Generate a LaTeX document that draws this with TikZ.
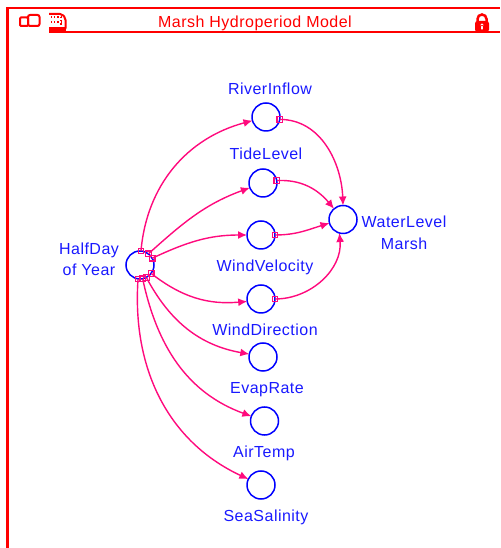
\documentclass[tikz,border=0pt]{standalone}
\usepackage{fontspec}
\setmainfont[LetterSpace=3]{Liberation Sans}
\usetikzlibrary{arrows.meta}
\definecolor{linkpink}{RGB}{255,10,125}
\definecolor{vartext}{RGB}{25,25,255}
\tikzset{
    var/.style={circle, draw=blue, line width=1.5pt, minimum size=28pt, inner sep=0pt, outer sep=0pt},
    varlabel/.style={text=vartext, font=\fontsize{16}{18}\selectfont, inner sep=0pt, text height=11pt, text depth=0pt},
    link/.style={draw=linkpink, line width=1.4pt, -{Latex[length=9pt,width=8pt]}},
    hook/.style={rectangle, draw=linkpink, line width=1.2pt, minimum size=5.5pt, inner sep=0pt, outer sep=0pt}
}

\begin{document}
\begin{tikzpicture}[x=1pt, y=1pt]
            \useasboundingbox (0, 0) rectangle (500, 548);

            % frame and title
            \draw[red, line width=3pt] (7.5, 0) -- (7.5, 540);
            \draw[red, line width=2.2pt] (6, 540) -- (500, 540);
            \draw[red, line width=2.2pt] (49, 516) -- (462, 516);
            \draw[red, line width=1.2pt] (462, 516) -- (500, 516);
            \node[text=red, font=\fontsize{16}{18}\selectfont, inner sep=0pt, text height=11pt, text depth=0pt] (title) at (255, 526) {Marsh Hydroperiod Model};

            % window icons
            \draw[red, line width=2pt, rounded corners=1pt] (20, 522) rectangle (28, 530.5);
            \draw[red, line width=2pt, rounded corners=2pt] (28, 522) rectangle (39.5, 533);
            \draw[red, line width=2pt, rounded corners=2pt] (49, 534) -- (62, 534) -- (65.5, 530) -- (65.5, 518) -- (50, 518);
            \fill[red] (49, 516) rectangle (66, 521);
            \draw[red, line width=1.2pt, dotted] (51, 531) -- (61, 531) (51, 526) -- (61, 526) (61, 531) -- (61, 522);

            % lock icon
            \draw[red, line width=2.5pt] (477.5, 526) -- (477.5, 529) arc (180:0:4.5) -- (486.5, 526);
            \fill[red, rounded corners=2.5pt] (475, 516) rectangle (489, 527);
            \fill[white] (482, 523) circle (1.6) (481.1, 518.5) rectangle (482.9, 523);

            % variables
            \node[var] (half) at (140, 283) {};
            \node[var] (river) at (266, 431) {};
            \node[var] (tide) at (263, 365) {};
            \node[var] (velocity) at (261, 313) {};
            \node[var] (direction) at (261, 249) {};
            \node[var] (evap) at (263, 191) {};
            \node[var] (air) at (264.5, 127) {};
            \node[var] (sea) at (261, 63) {};
            \node[var] (water) at (343, 328.5) {};

            % labels
            \node[varlabel] (halflabela) at (89, 299) {HalfDay};
            \node[varlabel] (halflabelb) at (89, 278) {of Year};
            \node[varlabel] (riverlabel) at (270, 459) {RiverInflow};
            \node[varlabel] (tidelabel) at (266, 394) {TideLevel};
            \node[varlabel] (velocitylabel) at (265, 282) {WindVelocity};
            \node[varlabel] (directionlabel) at (265, 218) {WindDirection};
            \node[varlabel] (evaplabel) at (267, 160) {EvapRate};
            \node[varlabel] (airlabel) at (264, 96) {AirTemp};
            \node[varlabel] (sealabel) at (266, 32) {SeaSalinity};
            \node[varlabel] (waterlabela) at (404, 326) {WaterLevel};
            \node[varlabel] (waterlabelb) at (404, 304) {Marsh};

            % links out of the half day
            \draw[link] (half.86) to[out=85, in=195] node[at start, hook] (ha) {} (river.195);
            \draw[link] (half.53) to[out=42, in=200] node[at start, hook] (hb) {} (tide.200);
            \draw[link] (half.29) to[out=25, in=180] node[at start, hook] (hc) {} (velocity.180);
            \draw[link] (half.-37) to[out=-38, in=185] node[at start, hook] (hd) {} (direction.190);
            \draw[link] (half.-63) to[out=-62, in=170] node[at start, hook] (he) {} (evap.168);
            \draw[link] (half.-79) to[out=-78, in=160] node[at start, hook] (hf) {} (air.160);
            \draw[link] (half.-98) to[out=-94, in=155] node[at start, hook] (hg) {} (sea.155);

            % links into the marsh level
            \draw[link] (river.-10) to[out=0, in=92] node[at start, hook] (wa) {} (water.90);
            \draw[link] (tide.10) to[out=3, in=130] node[at start, hook] (wb) {} (water.130);
            \draw[link] (velocity.0) to[out=0, in=197] node[at start, hook] (wc) {} (water.195);
            \draw[link] (direction.0) to[out=0, in=-85] node[at start, hook] (wd) {} (water.-105);
        \end{tikzpicture}
\end{document}
